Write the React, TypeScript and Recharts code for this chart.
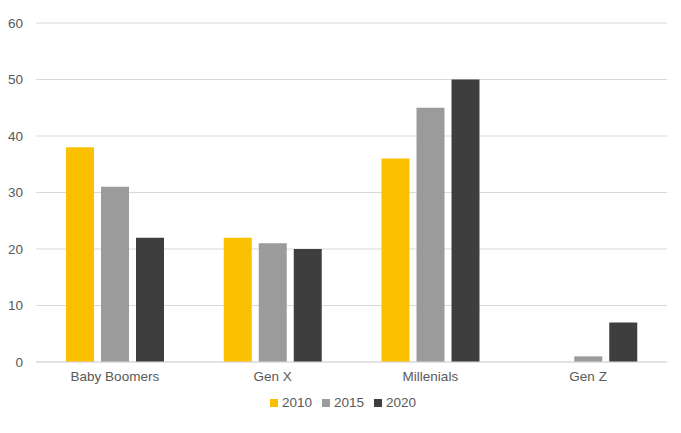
import { BarChart, Bar, XAxis, YAxis, CartesianGrid, Legend } from "recharts";

const categories = ["Baby Boomers", "Gen X", "Millenials", "Gen Z"];
const values2010 = [38, 22, 36, 0];
const values2015 = [31, 21, 45, 1];
const values2020 = [22, 20, 50, 7];
const yTicks = [0, 10, 20, 30, 40, 50, 60];

const data = categories.map((name, i) => ({
  name,
  y2010: values2010[i],
  y2015: values2015[i],
  y2020: values2020[i],
}));

const font = "'Liberation Sans', Arial, sans-serif";
const textColor = "#595959";

export default function App() {
  return (
    <div style={{ position: "absolute", left: 0, top: 0, fontFamily: font }}>
      <BarChart
        width={681}
        height={433}
        data={data}
        margin={{ top: 23, right: 14, bottom: 26, left: 1 }}
        barGap={7}
        barCategoryGap={30}
      >
        <CartesianGrid vertical={false} stroke="#d9d9d9" />
        <XAxis
          dataKey="name"
          tickLine={false}
          axisLine={{ stroke: "#d9d9d9" }}
          tick={{ fill: textColor, fontSize: 13.5, fontFamily: font }}
          tickMargin={3}
        />
        <YAxis
          width={35}
          domain={[0, 60]}
          ticks={yTicks}
          tickLine={false}
          axisLine={false}
          tickMargin={7}
          tick={{ fill: textColor, fontSize: 13.5, fontFamily: font }}
        />
        <Legend
          iconType="square"
          iconSize={8}
          wrapperStyle={{ fontSize: 13.5, color: textColor, fontFamily: font, left: 15, top: 395 }}
          formatter={(value: any) => <span style={{ color: textColor }}>{value}</span>}
        />
        <Bar dataKey="y2010" name="2010" fill="#FBC000" isAnimationActive={false} />
        <Bar dataKey="y2015" name="2015" fill="#9B9B9B" isAnimationActive={false} />
        <Bar dataKey="y2020" name="2020" fill="#3E3E3E" isAnimationActive={false} />
      </BarChart>
    </div>
  );
}
